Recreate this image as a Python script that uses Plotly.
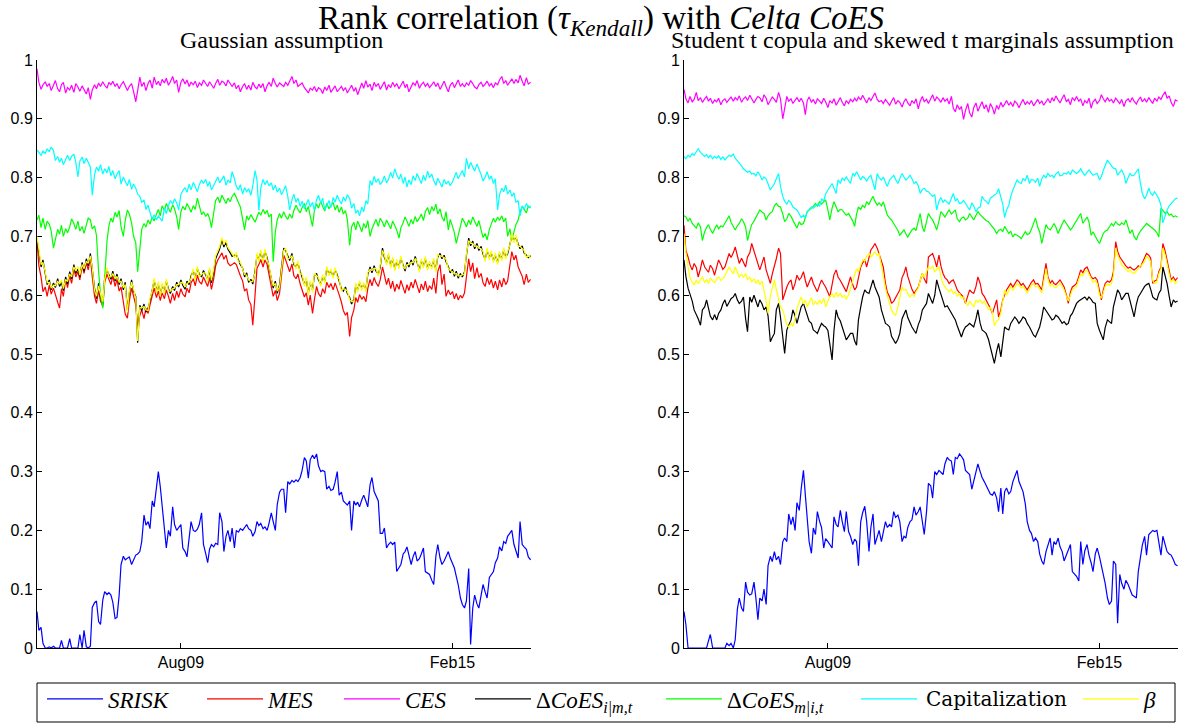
import pandas as pd
import plotly.graph_objects as go

# Semi-monthly observations, Sep 2006 - Sep 2016 (one row per year of 24 values)
START = "2006-09-01"

# ---------------- Gaussian assumption ----------------
srisk_gauss = [
    0.062, 0.030, 0.035, 0.008, 0.000, 0.000, 0.002, 0.000, 0.003, 0.000, 0.000, 0.000, 0.013, 0.000, 0.000, 0.000, 0.016, 0.000, 0.000, 0.000, 0.000, 0.023, 0.000, 0.030,
    0.002, 0.000, 0.003, 0.069, 0.077, 0.080, 0.045, 0.040, 0.082, 0.096, 0.091, 0.094, 0.090, 0.078, 0.050, 0.052, 0.090, 0.142, 0.156, 0.150, 0.153, 0.155, 0.142, 0.150,
    0.158, 0.160, 0.164, 0.181, 0.226, 0.209, 0.215, 0.203, 0.250, 0.240, 0.280, 0.300, 0.275, 0.240, 0.193, 0.170, 0.200, 0.190, 0.240, 0.210, 0.200, 0.205, 0.210, 0.170,
    0.164, 0.155, 0.188, 0.215, 0.200, 0.198, 0.202, 0.210, 0.230, 0.176, 0.160, 0.145, 0.168, 0.176, 0.172, 0.178, 0.176, 0.230, 0.215, 0.164, 0.190, 0.200, 0.181, 0.204,
    0.170, 0.200, 0.197, 0.203, 0.200, 0.205, 0.210, 0.203, 0.200, 0.190, 0.198, 0.215, 0.208, 0.212, 0.203, 0.206, 0.200, 0.212, 0.230, 0.215, 0.200, 0.244, 0.265, 0.270,
    0.270, 0.230, 0.283, 0.279, 0.285, 0.282, 0.286, 0.283, 0.290, 0.302, 0.324, 0.318, 0.289, 0.320, 0.328, 0.322, 0.330, 0.310, 0.300, 0.302, 0.300, 0.270, 0.275, 0.268,
    0.270, 0.282, 0.300, 0.260, 0.265, 0.250, 0.247, 0.243, 0.250, 0.200, 0.250, 0.243, 0.248, 0.240, 0.252, 0.260, 0.250, 0.240, 0.278, 0.290, 0.266, 0.258, 0.250, 0.195,
    0.195, 0.204, 0.170, 0.176, 0.180, 0.176, 0.180, 0.130, 0.138, 0.142, 0.160, 0.164, 0.172, 0.160, 0.142, 0.155, 0.164, 0.148, 0.152, 0.160, 0.170, 0.130, 0.128, 0.125,
    0.115, 0.108, 0.156, 0.176, 0.153, 0.142, 0.148, 0.155, 0.164, 0.153, 0.145, 0.136, 0.122, 0.108, 0.085, 0.074, 0.068, 0.080, 0.135, 0.006, 0.068, 0.090, 0.075, 0.068,
    0.090, 0.108, 0.095, 0.085, 0.120, 0.125, 0.130, 0.145, 0.153, 0.172, 0.165, 0.181, 0.178, 0.190, 0.195, 0.200, 0.176, 0.165, 0.153, 0.215, 0.176, 0.172, 0.168, 0.155,
    0.150,
]
mes_gauss = [
    0.690, 0.650, 0.631, 0.606, 0.614, 0.598, 0.617, 0.602, 0.612, 0.599, 0.588, 0.578, 0.611, 0.598, 0.627, 0.613, 0.634, 0.620, 0.645, 0.631, 0.640, 0.626, 0.651, 0.637,
    0.655, 0.643, 0.664, 0.632, 0.598, 0.586, 0.608, 0.590, 0.581, 0.622, 0.636, 0.627, 0.618, 0.633, 0.615, 0.627, 0.607, 0.614, 0.592, 0.568, 0.561, 0.590, 0.612, 0.596,
    0.583, 0.548, 0.566, 0.575, 0.560, 0.578, 0.569, 0.583, 0.601, 0.612, 0.596, 0.607, 0.591, 0.604, 0.594, 0.609, 0.598, 0.586, 0.603, 0.591, 0.607, 0.596, 0.611, 0.602,
    0.597, 0.612, 0.604, 0.621, 0.628, 0.616, 0.634, 0.623, 0.619, 0.631, 0.622, 0.615, 0.630, 0.610, 0.628, 0.650, 0.660, 0.666, 0.672, 0.661, 0.668, 0.655, 0.650, 0.652,
    0.655, 0.652, 0.641, 0.633, 0.624, 0.607, 0.611, 0.592, 0.584, 0.549, 0.601, 0.646, 0.652, 0.661, 0.648, 0.660, 0.652, 0.633, 0.617, 0.598, 0.608, 0.591, 0.603, 0.630,
    0.668, 0.660, 0.651, 0.640, 0.653, 0.633, 0.628, 0.636, 0.619, 0.610, 0.597, 0.604, 0.583, 0.600, 0.569, 0.592, 0.615, 0.603, 0.597, 0.611, 0.603, 0.622, 0.613, 0.620,
    0.609, 0.621, 0.612, 0.601, 0.588, 0.574, 0.566, 0.571, 0.530, 0.562, 0.575, 0.596, 0.588, 0.601, 0.593, 0.598, 0.589, 0.611, 0.627, 0.616, 0.630, 0.621, 0.615, 0.626,
    0.648, 0.632, 0.618, 0.629, 0.611, 0.624, 0.606, 0.619, 0.610, 0.625, 0.613, 0.603, 0.618, 0.608, 0.622, 0.612, 0.627, 0.615, 0.604, 0.619, 0.609, 0.624, 0.606, 0.616,
    0.610, 0.629, 0.603, 0.640, 0.652, 0.618, 0.636, 0.598, 0.609, 0.601, 0.606, 0.594, 0.603, 0.592, 0.600, 0.595, 0.604, 0.631, 0.662, 0.640, 0.655, 0.628, 0.647, 0.630,
    0.637, 0.621, 0.615, 0.630, 0.618, 0.627, 0.612, 0.624, 0.609, 0.626, 0.614, 0.629, 0.618, 0.624, 0.652, 0.674, 0.660, 0.668, 0.648, 0.641, 0.632, 0.618, 0.636, 0.622,
    0.627,
]
ces_gauss = [
    0.985, 0.962, 0.950, 0.958, 0.963, 0.955, 0.960, 0.948, 0.957, 0.965, 0.951, 0.946, 0.958, 0.962, 0.944, 0.953, 0.949, 0.957, 0.945, 0.960, 0.954, 0.947, 0.956, 0.950,
    0.942, 0.953, 0.933, 0.949, 0.958, 0.951, 0.961, 0.955, 0.963, 0.957, 0.952, 0.962, 0.958, 0.964, 0.955, 0.960, 0.951, 0.958, 0.963, 0.956, 0.948, 0.955, 0.960, 0.947,
    0.929, 0.948, 0.971, 0.955, 0.962, 0.948, 0.960, 0.966, 0.952, 0.971, 0.958, 0.964, 0.956, 0.967, 0.961, 0.969, 0.957, 0.963, 0.972, 0.960, 0.966, 0.945, 0.962, 0.968,
    0.959, 0.966, 0.955, 0.962, 0.958, 0.964, 0.953, 0.961, 0.957, 0.966, 0.960, 0.955, 0.963, 0.958, 0.952, 0.960, 0.967, 0.957, 0.964, 0.962, 0.956, 0.966, 0.959, 0.955,
    0.961, 0.951, 0.957, 0.946, 0.955, 0.960, 0.950, 0.957, 0.949, 0.962, 0.954, 0.951, 0.959, 0.953, 0.960, 0.946, 0.956, 0.962, 0.955, 0.969, 0.960, 0.954, 0.961, 0.958,
    0.955, 0.962, 0.957, 0.964, 0.972, 0.960, 0.966, 0.955, 0.959, 0.961, 0.953, 0.948, 0.944, 0.952, 0.949, 0.955, 0.946, 0.953, 0.950, 0.943, 0.954, 0.948, 0.957, 0.945,
    0.952, 0.956, 0.946, 0.951, 0.955, 0.948, 0.953, 0.944, 0.950, 0.957, 0.947, 0.953, 0.941, 0.949, 0.961, 0.952, 0.965, 0.954, 0.959, 0.948, 0.962, 0.955, 0.960, 0.950,
    0.957, 0.963, 0.949, 0.958, 0.953, 0.962, 0.955, 0.960, 0.951, 0.958, 0.964, 0.953, 0.959, 0.946, 0.955, 0.961, 0.957, 0.965, 0.952, 0.958, 0.962, 0.955, 0.960, 0.953,
    0.958, 0.963, 0.955, 0.961, 0.950, 0.958, 0.964, 0.955, 0.946, 0.957, 0.962, 0.953, 0.959, 0.966, 0.955, 0.960, 0.954, 0.961, 0.957, 0.965, 0.960, 0.954, 0.951, 0.958,
    0.962, 0.955, 0.959, 0.964, 0.956, 0.960, 0.953, 0.961, 0.958, 0.966, 0.972, 0.960, 0.965, 0.957, 0.963, 0.968, 0.960, 0.967, 0.961, 0.974, 0.964, 0.956, 0.970, 0.959,
    0.962,
]
dcoes_im_gauss = [
    0.694, 0.672, 0.648, 0.660, 0.635, 0.618, 0.626, 0.609, 0.621, 0.613, 0.628, 0.615, 0.622, 0.608, 0.631, 0.619, 0.640, 0.628, 0.652, 0.637, 0.645, 0.631, 0.656, 0.641,
    0.662, 0.650, 0.671, 0.643, 0.612, 0.594, 0.620, 0.598, 0.585, 0.631, 0.643, 0.635, 0.627, 0.641, 0.624, 0.636, 0.618, 0.628, 0.609, 0.622, 0.575, 0.603, 0.626, 0.607,
    0.598, 0.519, 0.583, 0.574, 0.585, 0.571, 0.578, 0.590, 0.612, 0.625, 0.608, 0.619, 0.602, 0.617, 0.606, 0.624, 0.611, 0.603, 0.615, 0.608, 0.622, 0.614, 0.626, 0.617,
    0.610, 0.624, 0.618, 0.633, 0.641, 0.629, 0.645, 0.636, 0.631, 0.642, 0.634, 0.627, 0.643, 0.621, 0.640, 0.662, 0.671, 0.679, 0.694, 0.682, 0.690, 0.678, 0.672, 0.666,
    0.668, 0.669, 0.660, 0.652, 0.646, 0.631, 0.638, 0.622, 0.627, 0.619, 0.642, 0.668, 0.661, 0.673, 0.660, 0.675, 0.664, 0.647, 0.632, 0.612, 0.624, 0.603, 0.618, 0.642,
    0.680, 0.676, 0.666, 0.659, 0.671, 0.652, 0.648, 0.655, 0.640, 0.632, 0.619, 0.627, 0.604, 0.621, 0.609, 0.633, 0.637, 0.626, 0.619, 0.631, 0.624, 0.645, 0.637, 0.641,
    0.632, 0.643, 0.635, 0.624, 0.611, 0.607, 0.614, 0.603, 0.596, 0.585, 0.593, 0.617, 0.609, 0.621, 0.612, 0.618, 0.610, 0.635, 0.648, 0.638, 0.650, 0.641, 0.636, 0.647,
    0.680, 0.664, 0.655, 0.668, 0.650, 0.661, 0.645, 0.657, 0.649, 0.663, 0.652, 0.641, 0.656, 0.648, 0.660, 0.651, 0.666, 0.655, 0.643, 0.658, 0.650, 0.662, 0.646, 0.654,
    0.648, 0.659, 0.643, 0.665, 0.671, 0.662, 0.668, 0.657, 0.649, 0.638, 0.644, 0.632, 0.641, 0.629, 0.637, 0.631, 0.640, 0.667, 0.697, 0.684, 0.692, 0.679, 0.688, 0.676,
    0.683, 0.670, 0.661, 0.676, 0.664, 0.672, 0.659, 0.668, 0.656, 0.671, 0.662, 0.677, 0.665, 0.670, 0.690, 0.701, 0.693, 0.699, 0.687, 0.679, 0.684, 0.672, 0.668, 0.664,
    0.667,
]
dcoes_mi_gauss = [
    0.728, 0.736, 0.715, 0.731, 0.712, 0.726, 0.721, 0.709, 0.680, 0.697, 0.712, 0.704, 0.719, 0.700, 0.713, 0.706, 0.716, 0.730, 0.722, 0.712, 0.726, 0.709, 0.717, 0.705,
    0.719, 0.731, 0.728, 0.713, 0.718, 0.702, 0.640, 0.602, 0.578, 0.632, 0.692, 0.718, 0.731, 0.724, 0.741, 0.733, 0.744, 0.716, 0.700, 0.727, 0.745, 0.738, 0.723, 0.701,
    0.689, 0.640, 0.682, 0.712, 0.722, 0.716, 0.728, 0.721, 0.733, 0.726, 0.738, 0.746, 0.735, 0.752, 0.744, 0.756, 0.748, 0.741, 0.754, 0.747, 0.733, 0.712, 0.742, 0.751,
    0.745, 0.756, 0.749, 0.741, 0.752, 0.746, 0.765, 0.751, 0.737, 0.742, 0.734, 0.739, 0.731, 0.715, 0.744, 0.761, 0.767, 0.757, 0.770, 0.762, 0.756, 0.765, 0.759, 0.768,
    0.773, 0.766, 0.758, 0.750, 0.729, 0.711, 0.735, 0.728, 0.737, 0.731, 0.724, 0.733, 0.741, 0.736, 0.746, 0.739, 0.744, 0.733, 0.738, 0.657, 0.708, 0.728, 0.739, 0.731,
    0.742, 0.734, 0.729, 0.738, 0.731, 0.744, 0.753, 0.746, 0.740, 0.749, 0.756, 0.742, 0.751, 0.735, 0.717, 0.744, 0.755, 0.748, 0.760, 0.751, 0.743, 0.756, 0.747, 0.752,
    0.758, 0.745, 0.753, 0.741, 0.750, 0.738, 0.744, 0.728, 0.685, 0.716, 0.724, 0.711, 0.726, 0.718, 0.708, 0.722, 0.714, 0.727, 0.700, 0.713, 0.721, 0.729, 0.717, 0.731,
    0.724, 0.716, 0.728, 0.720, 0.713, 0.726, 0.718, 0.711, 0.697, 0.715, 0.723, 0.733, 0.726, 0.717, 0.729, 0.721, 0.734, 0.725, 0.731, 0.738, 0.727, 0.742, 0.749, 0.737,
    0.751, 0.743, 0.755, 0.738, 0.747, 0.733, 0.726, 0.742, 0.711, 0.729, 0.717, 0.706, 0.688, 0.702, 0.719, 0.731, 0.724, 0.716, 0.728, 0.720, 0.733, 0.725, 0.717, 0.727,
    0.710, 0.698, 0.705, 0.694, 0.712, 0.722, 0.731, 0.724, 0.733, 0.727, 0.735, 0.725, 0.731, 0.700, 0.713, 0.694, 0.707, 0.720, 0.728, 0.742, 0.751, 0.746, 0.740, 0.752,
    0.748,
]
cap_gauss = [
    0.847, 0.843, 0.838, 0.845, 0.841, 0.849, 0.844, 0.852, 0.846, 0.829, 0.836, 0.826, 0.833, 0.822, 0.831, 0.838, 0.829, 0.836, 0.840, 0.826, 0.801, 0.828, 0.835, 0.824,
    0.833, 0.827, 0.818, 0.770, 0.805, 0.818, 0.811, 0.822, 0.806, 0.815, 0.808, 0.819, 0.803, 0.812, 0.798, 0.806, 0.812, 0.789, 0.801, 0.794, 0.786, 0.797, 0.780, 0.789,
    0.782, 0.772, 0.768, 0.758, 0.762, 0.746, 0.753, 0.741, 0.729, 0.737, 0.728, 0.735, 0.731, 0.726, 0.748, 0.739, 0.752, 0.761, 0.755, 0.764, 0.757, 0.745, 0.771, 0.778,
    0.783, 0.775, 0.789, 0.779, 0.792, 0.784, 0.776, 0.788, 0.796, 0.790, 0.797, 0.785, 0.793, 0.779, 0.787, 0.795, 0.801, 0.791, 0.798, 0.803, 0.787, 0.796, 0.791, 0.810,
    0.798, 0.785, 0.779, 0.788, 0.772, 0.783, 0.776, 0.781, 0.770, 0.786, 0.812, 0.796, 0.744, 0.782, 0.797, 0.788, 0.795, 0.786, 0.791, 0.779, 0.787, 0.775, 0.782, 0.771,
    0.779, 0.786, 0.768, 0.745, 0.762, 0.772, 0.758, 0.765, 0.751, 0.760, 0.747, 0.756, 0.763, 0.750, 0.758, 0.744, 0.762, 0.770, 0.757, 0.765, 0.745, 0.752, 0.761, 0.749,
    0.766, 0.758, 0.770, 0.762, 0.755, 0.767, 0.760, 0.771, 0.764, 0.748, 0.756, 0.739, 0.745, 0.735, 0.750, 0.742, 0.761, 0.755, 0.795, 0.787, 0.802, 0.792, 0.798, 0.788,
    0.794, 0.803, 0.791, 0.797, 0.809, 0.799, 0.815, 0.805, 0.797, 0.806, 0.790, 0.801, 0.784, 0.796, 0.788, 0.803, 0.795, 0.807, 0.798, 0.790, 0.804, 0.795, 0.811, 0.800,
    0.806, 0.795, 0.787, 0.799, 0.791, 0.784, 0.797, 0.789, 0.794, 0.786, 0.793, 0.801, 0.809, 0.798, 0.806, 0.812, 0.801, 0.833, 0.815, 0.826, 0.818, 0.811, 0.823, 0.816,
    0.805, 0.794, 0.801, 0.810, 0.797, 0.803, 0.790, 0.798, 0.745, 0.771, 0.782, 0.776, 0.787, 0.772, 0.779, 0.768, 0.774, 0.758, 0.761, 0.735, 0.752, 0.746, 0.756, 0.749,
    0.752,
]
beta_gauss = [
    0.700, 0.676, 0.652, 0.656, 0.640, 0.621, 0.622, 0.612, 0.617, 0.616, 0.624, 0.619, 0.626, 0.611, 0.627, 0.623, 0.636, 0.631, 0.648, 0.641, 0.649, 0.634, 0.652, 0.645,
    0.658, 0.654, 0.667, 0.646, 0.608, 0.598, 0.616, 0.602, 0.589, 0.627, 0.647, 0.631, 0.631, 0.637, 0.628, 0.632, 0.622, 0.624, 0.613, 0.618, 0.571, 0.607, 0.622, 0.611,
    0.594, 0.522, 0.579, 0.578, 0.581, 0.575, 0.574, 0.594, 0.608, 0.629, 0.604, 0.623, 0.598, 0.621, 0.602, 0.628, 0.607, 0.607, 0.611, 0.612, 0.618, 0.618, 0.622, 0.621,
    0.614, 0.620, 0.622, 0.629, 0.645, 0.625, 0.649, 0.632, 0.635, 0.638, 0.638, 0.623, 0.647, 0.625, 0.645, 0.667, 0.675, 0.683, 0.698, 0.686, 0.694, 0.681, 0.676, 0.670,
    0.664, 0.673, 0.656, 0.656, 0.642, 0.635, 0.634, 0.626, 0.623, 0.623, 0.638, 0.672, 0.657, 0.677, 0.656, 0.679, 0.660, 0.651, 0.628, 0.616, 0.620, 0.607, 0.614, 0.646,
    0.676, 0.680, 0.662, 0.663, 0.667, 0.656, 0.644, 0.659, 0.636, 0.636, 0.615, 0.631, 0.600, 0.625, 0.605, 0.637, 0.633, 0.630, 0.615, 0.635, 0.620, 0.649, 0.633, 0.645,
    0.628, 0.647, 0.631, 0.628, 0.607, 0.611, 0.610, 0.607, 0.592, 0.589, 0.589, 0.621, 0.605, 0.625, 0.608, 0.622, 0.606, 0.639, 0.644, 0.642, 0.646, 0.645, 0.632, 0.651,
    0.676, 0.668, 0.651, 0.672, 0.646, 0.665, 0.641, 0.661, 0.645, 0.667, 0.648, 0.645, 0.652, 0.652, 0.656, 0.655, 0.662, 0.659, 0.639, 0.662, 0.646, 0.666, 0.642, 0.658,
    0.644, 0.663, 0.639, 0.669, 0.667, 0.666, 0.664, 0.661, 0.645, 0.642, 0.640, 0.636, 0.637, 0.633, 0.633, 0.635, 0.636, 0.671, 0.693, 0.688, 0.688, 0.683, 0.684, 0.680,
    0.679, 0.674, 0.657, 0.680, 0.660, 0.676, 0.655, 0.672, 0.652, 0.675, 0.658, 0.681, 0.661, 0.674, 0.686, 0.705, 0.689, 0.703, 0.683, 0.683, 0.680, 0.676, 0.664, 0.668,
    0.663,
]

# ------- Student t copula, skewed t marginals -------
srisk_skt = [
    0.062, 0.040, 0.000, 0.000, 0.000, 0.000, 0.000, 0.000, 0.000, 0.000, 0.000, 0.000, 0.012, 0.023, 0.000, 0.000, 0.000, 0.000, 0.000, 0.000, 0.000, 0.008, 0.004, 0.008,
    0.000, 0.014, 0.066, 0.085, 0.068, 0.062, 0.112, 0.095, 0.090, 0.092, 0.112, 0.085, 0.048, 0.085, 0.080, 0.100, 0.074, 0.140, 0.156, 0.147, 0.164, 0.150, 0.156, 0.142,
    0.181, 0.187, 0.181, 0.228, 0.210, 0.223, 0.200, 0.247, 0.234, 0.270, 0.302, 0.260, 0.215, 0.181, 0.161, 0.204, 0.193, 0.232, 0.215, 0.205, 0.170, 0.186, 0.181, 0.175,
    0.170, 0.223, 0.210, 0.206, 0.234, 0.215, 0.198, 0.232, 0.198, 0.190, 0.176, 0.185, 0.181, 0.140, 0.215, 0.230, 0.241, 0.215, 0.164, 0.205, 0.228, 0.176, 0.192, 0.200,
    0.181, 0.198, 0.215, 0.205, 0.210, 0.206, 0.232, 0.222, 0.226, 0.215, 0.181, 0.190, 0.187, 0.205, 0.215, 0.218, 0.240, 0.226, 0.232, 0.240, 0.218, 0.193, 0.232, 0.280,
    0.276, 0.255, 0.300, 0.295, 0.302, 0.298, 0.295, 0.313, 0.324, 0.320, 0.318, 0.295, 0.324, 0.322, 0.330, 0.326, 0.320, 0.302, 0.298, 0.295, 0.270, 0.283, 0.295, 0.313,
    0.300, 0.290, 0.283, 0.276, 0.270, 0.262, 0.260, 0.266, 0.255, 0.232, 0.272, 0.228, 0.266, 0.272, 0.262, 0.266, 0.283, 0.292, 0.302, 0.283, 0.275, 0.266, 0.245, 0.215,
    0.200, 0.195, 0.181, 0.187, 0.181, 0.160, 0.148, 0.142, 0.164, 0.175, 0.187, 0.158, 0.181, 0.176, 0.187, 0.172, 0.164, 0.148, 0.158, 0.168, 0.176, 0.130, 0.126, 0.122,
    0.114, 0.181, 0.142, 0.165, 0.176, 0.158, 0.145, 0.130, 0.160, 0.170, 0.155, 0.140, 0.130, 0.110, 0.085, 0.074, 0.080, 0.148, 0.142, 0.042, 0.125, 0.110, 0.100, 0.115,
    0.108, 0.100, 0.090, 0.088, 0.085, 0.130, 0.158, 0.175, 0.190, 0.158, 0.193, 0.196, 0.200, 0.198, 0.200, 0.180, 0.158, 0.190, 0.176, 0.164, 0.160, 0.158, 0.150, 0.142,
    0.140,
]
mes_skt = [
    0.719, 0.676, 0.665, 0.652, 0.643, 0.654, 0.647, 0.631, 0.645, 0.660, 0.648, 0.643, 0.639, 0.651, 0.645, 0.634, 0.647, 0.660, 0.652, 0.644, 0.648, 0.658, 0.671, 0.664,
    0.672, 0.682, 0.665, 0.654, 0.663, 0.657, 0.648, 0.665, 0.672, 0.688, 0.675, 0.665, 0.650, 0.643, 0.655, 0.665, 0.643, 0.632, 0.620, 0.636, 0.648, 0.662, 0.680, 0.671,
    0.592, 0.604, 0.614, 0.621, 0.626, 0.609, 0.620, 0.634, 0.626, 0.630, 0.640, 0.625, 0.614, 0.622, 0.631, 0.620, 0.611, 0.606, 0.618, 0.626, 0.619, 0.614, 0.605, 0.597,
    0.618, 0.635, 0.643, 0.631, 0.625, 0.620, 0.612, 0.606, 0.620, 0.631, 0.618, 0.609, 0.614, 0.630, 0.648, 0.655, 0.660, 0.648, 0.662, 0.677, 0.682, 0.688, 0.680, 0.671,
    0.660, 0.648, 0.620, 0.605, 0.597, 0.586, 0.590, 0.597, 0.603, 0.609, 0.630, 0.637, 0.648, 0.632, 0.620, 0.610, 0.603, 0.609, 0.614, 0.625, 0.637, 0.628, 0.620, 0.665,
    0.668, 0.671, 0.660, 0.648, 0.668, 0.650, 0.637, 0.630, 0.626, 0.620, 0.624, 0.626, 0.618, 0.609, 0.604, 0.600, 0.597, 0.586, 0.598, 0.609, 0.605, 0.603, 0.615, 0.631,
    0.620, 0.603, 0.598, 0.592, 0.586, 0.578, 0.569, 0.580, 0.592, 0.563, 0.575, 0.592, 0.600, 0.609, 0.615, 0.620, 0.614, 0.620, 0.626, 0.623, 0.617, 0.620, 0.614, 0.609,
    0.616, 0.622, 0.626, 0.619, 0.620, 0.614, 0.609, 0.630, 0.654, 0.632, 0.620, 0.625, 0.620, 0.618, 0.623, 0.626, 0.620, 0.614, 0.600, 0.586, 0.605, 0.614, 0.617, 0.620,
    0.632, 0.643, 0.638, 0.645, 0.648, 0.640, 0.631, 0.628, 0.630, 0.626, 0.605, 0.592, 0.608, 0.620, 0.624, 0.622, 0.626, 0.640, 0.691, 0.675, 0.665, 0.660, 0.654, 0.650,
    0.646, 0.648, 0.645, 0.643, 0.646, 0.650, 0.648, 0.655, 0.662, 0.671, 0.668, 0.663, 0.620, 0.624, 0.626, 0.640, 0.648, 0.688, 0.675, 0.660, 0.640, 0.626, 0.631, 0.625,
    0.630,
]
ces_skt = [
    0.950, 0.934, 0.927, 0.938, 0.929, 0.933, 0.945, 0.931, 0.936, 0.928, 0.934, 0.938, 0.930, 0.935, 0.926, 0.932, 0.929, 0.935, 0.924, 0.931, 0.934, 0.928, 0.933, 0.937,
    0.930, 0.936, 0.932, 0.939, 0.928, 0.934, 0.937, 0.931, 0.940, 0.935, 0.927, 0.933, 0.938, 0.936, 0.929, 0.941, 0.935, 0.924, 0.931, 0.937, 0.933, 0.928, 0.945, 0.934,
    0.900, 0.921, 0.938, 0.930, 0.934, 0.926, 0.932, 0.936, 0.929, 0.935, 0.927, 0.907, 0.931, 0.937, 0.928, 0.933, 0.925, 0.934, 0.930, 0.926, 0.935, 0.929, 0.919, 0.931,
    0.927, 0.934, 0.923, 0.930, 0.936, 0.928, 0.922, 0.931, 0.926, 0.933, 0.929, 0.935, 0.930, 0.937, 0.932, 0.940, 0.934, 0.927, 0.936, 0.931, 0.938, 0.944, 0.933, 0.929,
    0.931, 0.926, 0.933, 0.928, 0.923, 0.930, 0.936, 0.925, 0.931, 0.928, 0.920, 0.929, 0.934, 0.927, 0.922, 0.931, 0.926, 0.934, 0.917, 0.930, 0.938, 0.929, 0.933, 0.926,
    0.935, 0.941, 0.930, 0.937, 0.933, 0.928, 0.936, 0.930, 0.934, 0.925, 0.938, 0.918, 0.912, 0.924, 0.916, 0.921, 0.899, 0.914, 0.926, 0.910, 0.903, 0.919, 0.927, 0.913,
    0.922, 0.929, 0.917, 0.924, 0.911, 0.926, 0.919, 0.908, 0.923, 0.916, 0.928, 0.920, 0.925, 0.931, 0.923, 0.928, 0.921, 0.930, 0.926, 0.919, 0.927, 0.933, 0.924, 0.929,
    0.925, 0.931, 0.922, 0.928, 0.933, 0.926, 0.930, 0.923, 0.929, 0.934, 0.927, 0.936, 0.930, 0.939, 0.932, 0.927, 0.935, 0.941, 0.929, 0.933, 0.924, 0.936, 0.931, 0.938,
    0.930, 0.934, 0.922, 0.931, 0.927, 0.935, 0.918, 0.929, 0.933, 0.926, 0.931, 0.941, 0.934, 0.929, 0.936, 0.930, 0.933, 0.927, 0.935, 0.931, 0.926, 0.933, 0.921, 0.930,
    0.934, 0.928, 0.936, 0.930, 0.925, 0.932, 0.937, 0.929, 0.934, 0.928, 0.936, 0.931, 0.926, 0.935, 0.930, 0.937, 0.933, 0.940, 0.946, 0.935, 0.939, 0.928, 0.921, 0.932,
    0.930,
]
dcoes_im_skt = [
    0.660, 0.632, 0.612, 0.602, 0.590, 0.575, 0.568, 0.560, 0.549, 0.575, 0.580, 0.592, 0.578, 0.564, 0.558, 0.567, 0.558, 0.569, 0.575, 0.585, 0.592, 0.581, 0.588, 0.594,
    0.597, 0.603, 0.592, 0.586, 0.590, 0.597, 0.560, 0.538, 0.597, 0.588, 0.600, 0.590, 0.580, 0.592, 0.585, 0.575, 0.580, 0.565, 0.521, 0.528, 0.535, 0.575, 0.586, 0.563,
    0.530, 0.501, 0.541, 0.550, 0.558, 0.575, 0.565, 0.552, 0.566, 0.580, 0.586, 0.575, 0.563, 0.556, 0.552, 0.541, 0.538, 0.535, 0.545, 0.552, 0.548, 0.546, 0.540, 0.520,
    0.490, 0.540, 0.575, 0.563, 0.556, 0.546, 0.535, 0.524, 0.530, 0.535, 0.535, 0.522, 0.515, 0.558, 0.580, 0.597, 0.609, 0.605, 0.603, 0.615, 0.626, 0.614, 0.605, 0.597,
    0.575, 0.563, 0.552, 0.550, 0.546, 0.530, 0.524, 0.518, 0.525, 0.535, 0.560, 0.569, 0.575, 0.562, 0.552, 0.546, 0.540, 0.535, 0.550, 0.558, 0.575, 0.580, 0.586, 0.603,
    0.595, 0.586, 0.600, 0.626, 0.612, 0.603, 0.590, 0.580, 0.582, 0.576, 0.569, 0.565, 0.558, 0.548, 0.538, 0.529, 0.540, 0.546, 0.549, 0.552, 0.549, 0.546, 0.560, 0.575,
    0.552, 0.541, 0.538, 0.535, 0.525, 0.512, 0.500, 0.484, 0.505, 0.518, 0.495, 0.520, 0.546, 0.543, 0.541, 0.552, 0.558, 0.563, 0.558, 0.552, 0.557, 0.563, 0.560, 0.552,
    0.546, 0.540, 0.532, 0.529, 0.538, 0.546, 0.562, 0.580, 0.574, 0.569, 0.563, 0.558, 0.560, 0.566, 0.563, 0.557, 0.552, 0.555, 0.550, 0.552, 0.565, 0.569, 0.580, 0.586,
    0.590, 0.592, 0.595, 0.597, 0.592, 0.597, 0.593, 0.588, 0.586, 0.552, 0.540, 0.530, 0.524, 0.545, 0.558, 0.555, 0.552, 0.580, 0.597, 0.609, 0.603, 0.592, 0.598, 0.603,
    0.603, 0.590, 0.575, 0.563, 0.585, 0.597, 0.603, 0.609, 0.615, 0.618, 0.620, 0.610, 0.597, 0.594, 0.592, 0.603, 0.609, 0.648, 0.635, 0.620, 0.598, 0.580, 0.592, 0.588,
    0.590,
]
dcoes_mi_skt = [
    0.735, 0.733, 0.726, 0.731, 0.722, 0.718, 0.714, 0.723, 0.716, 0.693, 0.708, 0.715, 0.720, 0.712, 0.705, 0.712, 0.720, 0.713, 0.718, 0.716, 0.722, 0.727, 0.735, 0.724,
    0.716, 0.711, 0.718, 0.722, 0.730, 0.725, 0.716, 0.693, 0.709, 0.720, 0.726, 0.733, 0.738, 0.745, 0.741, 0.739, 0.728, 0.735, 0.740, 0.742, 0.752, 0.756, 0.751, 0.750,
    0.738, 0.725, 0.730, 0.739, 0.734, 0.728, 0.722, 0.714, 0.725, 0.720, 0.722, 0.731, 0.742, 0.745, 0.748, 0.751, 0.756, 0.752, 0.759, 0.755, 0.759, 0.762, 0.745, 0.728,
    0.748, 0.759, 0.750, 0.742, 0.746, 0.745, 0.740, 0.736, 0.739, 0.733, 0.726, 0.717, 0.738, 0.750, 0.746, 0.753, 0.749, 0.759, 0.754, 0.762, 0.768, 0.760, 0.753, 0.757,
    0.752, 0.759, 0.748, 0.736, 0.731, 0.728, 0.722, 0.717, 0.710, 0.702, 0.707, 0.711, 0.704, 0.699, 0.706, 0.711, 0.714, 0.710, 0.726, 0.739, 0.716, 0.708, 0.725, 0.739,
    0.732, 0.728, 0.720, 0.711, 0.726, 0.742, 0.738, 0.733, 0.740, 0.745, 0.738, 0.742, 0.745, 0.730, 0.725, 0.731, 0.733, 0.728, 0.731, 0.739, 0.733, 0.728, 0.736, 0.742,
    0.737, 0.733, 0.730, 0.727, 0.725, 0.721, 0.717, 0.712, 0.705, 0.710, 0.712, 0.708, 0.717, 0.712, 0.705, 0.709, 0.699, 0.704, 0.702, 0.700, 0.696, 0.701, 0.708, 0.703,
    0.705, 0.712, 0.722, 0.731, 0.716, 0.708, 0.688, 0.702, 0.720, 0.714, 0.711, 0.716, 0.722, 0.716, 0.705, 0.713, 0.720, 0.728, 0.722, 0.717, 0.711, 0.715, 0.722, 0.727,
    0.733, 0.739, 0.722, 0.728, 0.733, 0.725, 0.702, 0.708, 0.699, 0.694, 0.688, 0.696, 0.705, 0.709, 0.711, 0.716, 0.722, 0.718, 0.725, 0.721, 0.719, 0.723, 0.720, 0.728,
    0.716, 0.705, 0.711, 0.700, 0.694, 0.703, 0.709, 0.714, 0.718, 0.722, 0.719, 0.717, 0.713, 0.711, 0.706, 0.699, 0.748, 0.743, 0.739, 0.742, 0.736, 0.738, 0.733, 0.735,
    0.733,
]
cap_skt = [
    0.836, 0.832, 0.838, 0.835, 0.841, 0.838, 0.844, 0.849, 0.843, 0.840, 0.836, 0.839, 0.834, 0.838, 0.832, 0.836, 0.833, 0.837, 0.831, 0.835, 0.830, 0.834, 0.838, 0.836,
    0.840, 0.833, 0.829, 0.826, 0.820, 0.815, 0.812, 0.809, 0.811, 0.806, 0.807, 0.803, 0.810, 0.805, 0.796, 0.801, 0.798, 0.789, 0.779, 0.784, 0.790, 0.798, 0.807, 0.785,
    0.768, 0.760, 0.755, 0.761, 0.757, 0.750, 0.747, 0.745, 0.738, 0.732, 0.736, 0.732, 0.742, 0.746, 0.750, 0.748, 0.752, 0.755, 0.751, 0.764, 0.760, 0.772, 0.779, 0.785,
    0.790, 0.782, 0.773, 0.796, 0.790, 0.799, 0.795, 0.801, 0.796, 0.790, 0.807, 0.803, 0.810, 0.804, 0.796, 0.802, 0.799, 0.794, 0.801, 0.804, 0.790, 0.779, 0.807, 0.800,
    0.796, 0.801, 0.792, 0.785, 0.796, 0.799, 0.804, 0.797, 0.790, 0.798, 0.807, 0.801, 0.796, 0.799, 0.804, 0.798, 0.790, 0.793, 0.786, 0.773, 0.780, 0.782, 0.777, 0.776,
    0.772, 0.768, 0.771, 0.745, 0.760, 0.766, 0.758, 0.762, 0.758, 0.755, 0.765, 0.773, 0.760, 0.764, 0.756, 0.757, 0.761, 0.755, 0.750, 0.745, 0.757, 0.752, 0.742, 0.748,
    0.750, 0.768, 0.762, 0.760, 0.755, 0.765, 0.768, 0.770, 0.773, 0.781, 0.768, 0.755, 0.732, 0.745, 0.753, 0.768, 0.779, 0.787, 0.796, 0.792, 0.790, 0.798, 0.795, 0.804,
    0.790, 0.797, 0.796, 0.792, 0.799, 0.785, 0.798, 0.804, 0.800, 0.807, 0.802, 0.804, 0.800, 0.806, 0.810, 0.803, 0.804, 0.808, 0.806, 0.810, 0.805, 0.813, 0.809, 0.807,
    0.810, 0.815, 0.808, 0.804, 0.809, 0.813, 0.808, 0.804, 0.806, 0.807, 0.796, 0.802, 0.812, 0.821, 0.830, 0.825, 0.821, 0.816, 0.815, 0.804, 0.809, 0.813, 0.805, 0.790,
    0.800, 0.807, 0.803, 0.804, 0.810, 0.815, 0.790, 0.773, 0.764, 0.770, 0.782, 0.773, 0.770, 0.776, 0.770, 0.764, 0.753, 0.723, 0.735, 0.745, 0.752, 0.755, 0.760, 0.764,
    0.765,
]
beta_skt = [
    0.705, 0.672, 0.648, 0.630, 0.622, 0.618, 0.625, 0.620, 0.627, 0.631, 0.622, 0.626, 0.620, 0.629, 0.624, 0.621, 0.628, 0.631, 0.625, 0.629, 0.633, 0.640, 0.648, 0.642,
    0.636, 0.648, 0.640, 0.631, 0.636, 0.630, 0.637, 0.626, 0.631, 0.622, 0.628, 0.620, 0.626, 0.618, 0.624, 0.609, 0.590, 0.569, 0.598, 0.612, 0.626, 0.610, 0.595, 0.580,
    0.575, 0.562, 0.550, 0.546, 0.552, 0.547, 0.560, 0.578, 0.590, 0.597, 0.585, 0.592, 0.580, 0.588, 0.596, 0.583, 0.590, 0.584, 0.592, 0.586, 0.595, 0.580, 0.590, 0.598,
    0.602, 0.596, 0.605, 0.598, 0.603, 0.596, 0.600, 0.593, 0.601, 0.612, 0.625, 0.637, 0.645, 0.640, 0.652, 0.660, 0.658, 0.666, 0.671, 0.665, 0.670, 0.674, 0.668, 0.671,
    0.650, 0.630, 0.612, 0.598, 0.585, 0.575, 0.568, 0.566, 0.580, 0.595, 0.614, 0.608, 0.610, 0.603, 0.597, 0.601, 0.598, 0.606, 0.612, 0.625, 0.637, 0.630, 0.642, 0.648,
    0.645, 0.650, 0.640, 0.643, 0.648, 0.632, 0.620, 0.614, 0.609, 0.606, 0.610, 0.603, 0.606, 0.598, 0.603, 0.595, 0.597, 0.588, 0.582, 0.590, 0.585, 0.580, 0.592, 0.588,
    0.592, 0.586, 0.590, 0.582, 0.575, 0.580, 0.570, 0.548, 0.556, 0.558, 0.570, 0.590, 0.609, 0.600, 0.610, 0.615, 0.608, 0.614, 0.620, 0.617, 0.612, 0.615, 0.608, 0.604,
    0.611, 0.617, 0.620, 0.614, 0.616, 0.609, 0.604, 0.622, 0.645, 0.628, 0.615, 0.619, 0.614, 0.613, 0.617, 0.620, 0.615, 0.609, 0.598, 0.590, 0.600, 0.609, 0.612, 0.615,
    0.627, 0.636, 0.633, 0.640, 0.642, 0.635, 0.626, 0.622, 0.625, 0.620, 0.600, 0.595, 0.604, 0.615, 0.619, 0.617, 0.620, 0.633, 0.680, 0.668, 0.660, 0.652, 0.648, 0.644,
    0.640, 0.643, 0.638, 0.637, 0.641, 0.645, 0.650, 0.652, 0.658, 0.666, 0.662, 0.657, 0.625, 0.620, 0.622, 0.636, 0.645, 0.680, 0.668, 0.655, 0.636, 0.622, 0.627, 0.620,
    0.624,
]

# Legend labels and line colours, in plotting order
measure_labels = [
    "<i>SRISK</i>",
    "<i>MES</i>",
    "<i>CES</i>",
    "Δ<i>CoES</i><sub><i>i|m,t</i></sub>",
    "Δ<i>CoES</i><sub><i>m|i,t</i></sub>",
    "Capitalization",
    "<i>β</i>",
]
measure_colors = ["#0000ff", "#ff0000", "#ff00ff", "#000000", "#00ff00", "#00ffff", "#ffff00"]
gauss_series = [srisk_gauss, mes_gauss, ces_gauss, dcoes_im_gauss, dcoes_mi_gauss, cap_gauss, beta_gauss]
skt_series = [srisk_skt, mes_skt, ces_skt, dcoes_im_skt, dcoes_mi_skt, cap_skt, beta_skt]
# labels with no math markup are set as annotations next to their legend sample
UPRIGHT = {5}

subtitles = ["Gaussian assumption", "Student t copula and skewed t marginals assumption"]
y_ticks = [0, 0.1, 0.2, 0.3, 0.4, 0.5, 0.6, 0.7, 0.8, 0.9, 1]
y_tick_text = ["0", "0.1", "0.2", "0.3", "0.4", "0.5", "0.6", "0.7", "0.8", "0.9", "1"]
x_ticks = ["2009-08-01", "2015-02-01"]
x_tick_text = ["Aug09", "Feb15"]

W, H = 1182, 723
SERIF = "Liberation Serif, serif"
SANS = "Liberation Sans, Arial, sans-serif"


def fx(px):
    return px / W


def fy(py):
    return 1 - py / H


fig = go.Figure()

for panel, series in enumerate([gauss_series, skt_series]):
    ax = "" if panel == 0 else "2"
    for k, vals in enumerate(series):
        dates = pd.date_range(START, periods=len(vals), freq="SMS")
        fig.add_trace(go.Scatter(
            x=dates, y=vals, mode="lines",
            line=dict(color=measure_colors[k], width=1.2),
            name="" if k in UPRIGHT else measure_labels[k],
            showlegend=(panel == 0),
            legend="legend" if k == 0 else f"legend{k + 1}",
            xaxis="x" + ax, yaxis="y" + ax,
            hoverinfo="skip",
        ))

axis_font = dict(family=SANS, size=16, color="black")
common_x = dict(
    type="date", range=["2006-09-01", "2016-09-04"],
    tickvals=x_ticks, ticktext=x_tick_text,
    ticks="inside", ticklen=5, tickcolor="black", tickwidth=1,
    showline=True, linecolor="black", linewidth=1, mirror=False,
    showgrid=False, zeroline=False, tickfont=axis_font, layer="below traces",
)
common_y = dict(
    range=[0, 1], tickvals=y_ticks, ticktext=y_tick_text,
    ticks="inside", ticklen=5, tickcolor="black", tickwidth=1,
    showline=True, linecolor="black", linewidth=1, mirror=False,
    showgrid=False, zeroline=False, tickfont=axis_font, layer="below traces",
)

panel_px = [(37, 531), (684, 1178)]
top_px, bottom_px = 60, 648

layout = dict(
    width=W, height=H,
    margin=dict(l=0, r=0, t=0, b=0, autoexpand=False),
    paper_bgcolor="white", plot_bgcolor="white",
    font=dict(family=SERIF, color="black"),
    xaxis=dict(common_x, domain=[fx(panel_px[0][0]), fx(panel_px[0][1])], anchor="y"),
    yaxis=dict(common_y, domain=[fy(bottom_px), fy(top_px)], anchor="x"),
    xaxis2=dict(common_x, domain=[fx(panel_px[1][0]), fx(panel_px[1][1])], anchor="y2"),
    yaxis2=dict(common_y, domain=[fy(bottom_px), fy(top_px)], anchor="x2"),
    showlegend=True,
)

# One single-entry legend per measure, laid out along the bottom box
legend_start_px = [48, 208, 345, 476, 667, 862, 1084]
legend_font = dict(family=SERIF, size=23, color="black")
LEGEND_Y = 699
for k, start in enumerate(legend_start_px):
    key = "legend" if k == 0 else f"legend{k + 1}"
    layout[key] = dict(
        x=fx(start - 6), y=fy(LEGEND_Y), xanchor="left", yanchor="middle",
        orientation="h", bgcolor="rgba(0,0,0,0)", borderwidth=0,
        font=legend_font, itemwidth=56,
    )

fig.update_layout(**layout)

# Legend frame
fig.add_shape(type="rect", xref="paper", yref="paper",
              x0=fx(37), x1=fx(1175), y0=fy(722), y1=fy(683),
              line=dict(color="black", width=1), fillcolor="rgba(0,0,0,0)")

# Upright legend labels, placed just right of their line sample
for k in UPRIGHT:
    fig.add_annotation(
        text=measure_labels[k], x=fx(legend_start_px[k] + 62), y=fy(LEGEND_Y),
        xref="paper", yref="paper", xanchor="left", yanchor="middle",
        showarrow=False, font=dict(family="DejaVu Serif, serif", size=20, color="black"),
    )

fig.add_annotation(
    text="Rank correlation (<i>τ</i><sub><i>Kendall</i></sub>) with <i>Celta CoES</i>",
    x=fx(601), y=fy(20), xref="paper", yref="paper",
    xanchor="center", yanchor="middle", showarrow=False,
    font=dict(family=SERIF, size=33, color="black"),
)
subtitle_center_px = [281, 922]
for cx, sub in zip(subtitle_center_px, subtitles):
    fig.add_annotation(
        text=sub, x=fx(cx), y=fy(40), xref="paper", yref="paper",
        xanchor="center", yanchor="middle", showarrow=False,
        font=dict(family=SERIF, size=24, color="black"),
    )

fig.write_html("out.html")
